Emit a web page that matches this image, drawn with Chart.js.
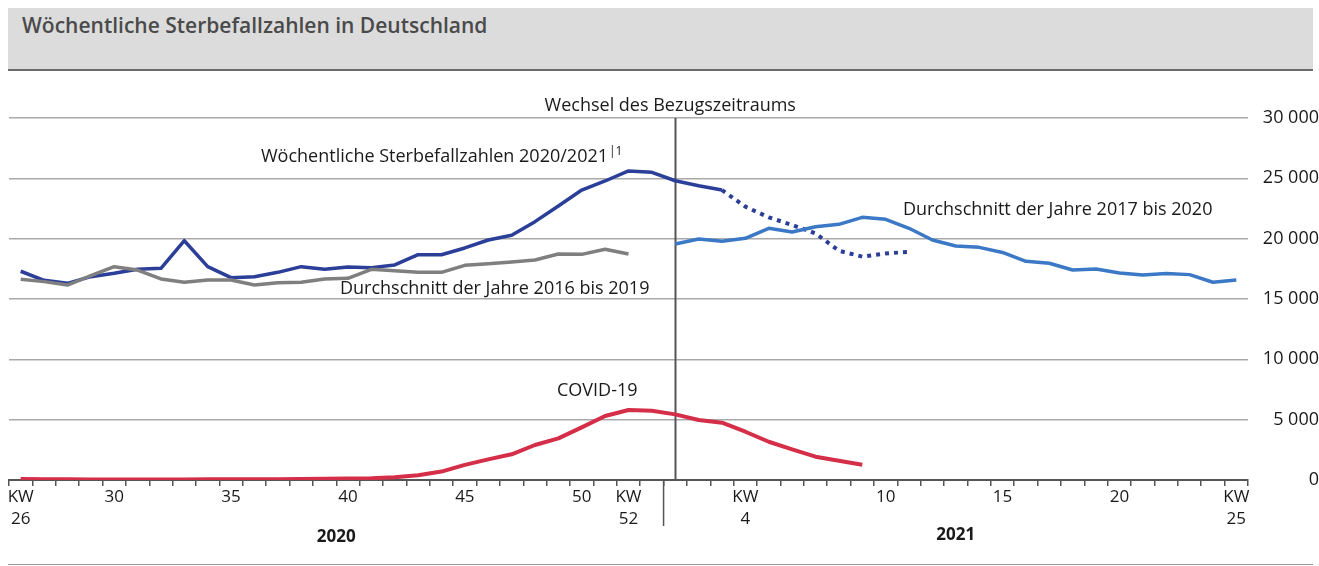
<!DOCTYPE html>
<html lang="de">
<head>
<meta charset="utf-8">
<title>Wöchentliche Sterbefallzahlen in Deutschland</title>
<script src="https://cdn.jsdelivr.net/npm/chart.js@4"></script>
<style>
  html, body { margin: 0; padding: 0; background: #fff; }
  body { width: 1319px; height: 566px; position: relative; overflow: hidden; font-family: "Open Sans", sans-serif; }
  .kopf { position: absolute; left: 8px; top: 8px; width: 1305px; height: 61px; background: #dcdcdc; border-bottom: 2px solid #6b6b6b; }
  .kopf h1 { margin: 0; position: absolute; left: 14px; top: 3px; font-size: 21px; font-weight: 600; color: #4a4a4a; }
  .fuss { position: absolute; left: 8px; top: 564px; width: 1305px; height: 1px; background: #999; }
  #chart { position: absolute; left: 0; top: 0; }
</style>
</head>
<body>
<div class="kopf"><h1>Wöchentliche Sterbefallzahlen in Deutschland</h1></div>
<canvas id="chart" width="1319" height="566"></canvas>
<div class="fuss"></div>

<script>
// Kalenderwochen: 2020 KW26 bis KW53, 2021 KW1 bis KW25
const wochen2020 = [26,27,28,29,30,31,32,33,34,35,36,37,38,39,40,41,42,43,44,45,46,47,48,49,50,51,52,53];
const wochen2021 = [1,2,3,4,5,6,7,8,9,10,11,12,13,14,15,16,17,18,19,20,21,22,23,24,25];
const kategorien = wochen2020.map(w => '2020-KW' + w).concat(wochen2021.map(w => '2021-KW' + w));

// Beschriftung der x-Achse ('|' = Zeilenumbruch)
const tickLabels = ['KW|26','','','','30','','','','','35','','','','','40','','','','','45','','','','','50','','KW|52','',
                    '','','','KW|4','','','','','','10','','','','','15','','','','','20','','','','','KW|25'];
const yTicks = [0, 5000, 10000, 15000, 20000, 25000, 30000];

// Wöchentliche Sterbefallzahlen 2020/2021 (durchgezogen bis KW3 2021)
const sterbefaelle = [17300,16550,16300,16850,17130,17460,17540,19830,17680,16770,16850,17210,17680,17460,
                      17650,17600,17820,18670,18670,19230,19890,20280,21410,22710,24030,24780,25610,25500,
                      24800,24390,24030];
// vorläufige Werte (gepunktet), ab KW3 2021
const sterbefaelleVorl = [null,null,null,null,null,null,null,null,null,null,null,null,null,null,
                          null,null,null,null,null,null,null,null,null,null,null,null,null,null,
                          null,null,24030,22650,21770,21130,20440,19000,18510,18780,18900];
// Durchschnitt der Jahre 2016 bis 2019
const schnitt2016 = [16630,16440,16160,16930,17680,17400,16660,16380,16570,16570,16160,16350,16380,16660,
                     16710,17460,17350,17210,17210,17790,17930,18070,18230,18730,18700,19120,18730];
// Durchschnitt der Jahre 2017 bis 2020 (ab KW1 2021)
const schnitt2017 = [null,null,null,null,null,null,null,null,null,null,null,null,null,null,
                     null,null,null,null,null,null,null,null,null,null,null,null,null,null,
                     19560,19970,19780,20030,20860,20550,20990,21190,21770,21600,20860,19890,19390,19280,
                     18860,18120,17960,17400,17490,17160,16990,17110,17020,16390,16570];
// COVID-19 Sterbefälle
const covid = [80,70,60,50,50,50,50,50,60,60,60,70,80,100,120,150,230,400,700,1250,1710,2130,2900,3450,
               4360,5300,5800,5740,5440,4970,4750,4000,3170,2540,1930,1600,1270];

const schrift = '"Open Sans", sans-serif';
const groesse = 18;

const beschriftung = {
    id: 'beschriftung',
    beforeDatasetsDraw(chart) {
        const ctx = chart.ctx;
        const x = chart.scales.x;
        const y = chart.scales.y;
        // Wechsel des Bezugszeitraums
        const xw = Math.round(x.getPixelForValue(28)) + 0.5;
        ctx.save();
        ctx.strokeStyle = '#555';
        ctx.lineWidth = 2;
        ctx.beginPath();
        ctx.moveTo(xw, y.getPixelForValue(30000));
        ctx.lineTo(xw, y.getPixelForValue(0));
        ctx.stroke();
        ctx.restore();
    },
    afterDraw(chart) {
        const ctx = chart.ctx;
        const x = chart.scales.x;
        const area = chart.chartArea;
        ctx.save();
        ctx.fillStyle = '#1a1a1a';
        ctx.textBaseline = 'middle';
        ctx.font = groesse + 'px ' + schrift;

        ctx.textAlign = 'center';
        ctx.fillText('Wechsel des Bezugszeitraums', x.getPixelForValue(28) - 5, 106);

        ctx.textAlign = 'left';
        ctx.fillText('Wöchentliche Sterbefallzahlen 2020/2021', 261, 157);
        const w = ctx.measureText('Wöchentliche Sterbefallzahlen 2020/2021').width;
        ctx.font = '12px ' + schrift;
        ctx.fillText('|1', 261 + w + 1, 152);
        ctx.font = groesse + 'px ' + schrift;
        ctx.fillText('Durchschnitt der Jahre 2016 bis 2019', 340, 289);
        ctx.fillText('Durchschnitt der Jahre 2017 bis 2020', 903, 210);
        ctx.fillText('COVID-19', 557, 391);

        // Jahrestrenner unter der Achse
        const grenze = (x.getPixelForValue(27) + x.getPixelForValue(28)) / 2;
        ctx.strokeStyle = '#555';
        ctx.lineWidth = 1.5;
        ctx.beginPath();
        ctx.moveTo(grenze, area.bottom);
        ctx.lineTo(grenze, area.bottom + 46);
        ctx.stroke();

        ctx.font = '700 17px ' + schrift;
        ctx.textAlign = 'center';
        ctx.fillText('2020', (x.getPixelForValue(0) + x.getPixelForValue(27)) / 2, 537);
        ctx.fillText('2021', (x.getPixelForValue(28) + x.getPixelForValue(52)) / 2, 535);
        ctx.restore();
    }
};

new Chart(document.getElementById('chart'), {
    type: 'line',
    data: {
        labels: kategorien,
        datasets: [
            {
                label: 'Durchschnitt der Jahre 2016 bis 2019',
                data: schnitt2016,
                borderColor: '#7f7f7f',
                borderWidth: 3.5
            },
            {
                label: 'Durchschnitt der Jahre 2017 bis 2020',
                data: schnitt2017,
                borderColor: '#3b78c5',
                borderWidth: 3.5
            },
            {
                label: 'Wöchentliche Sterbefallzahlen 2020/2021',
                data: sterbefaelle,
                borderColor: '#2b3e98',
                borderWidth: 3.5
            },
            {
                label: 'Wöchentliche Sterbefallzahlen 2020/2021 (vorläufig)',
                data: sterbefaelleVorl,
                borderColor: '#2b3e98',
                borderWidth: 4,
                borderDash: [4, 5],
                borderCapStyle: 'butt'
            },
            {
                label: 'COVID-19',
                data: covid,
                borderColor: '#d42e48',
                borderWidth: 4
            }
        ]
    },
    options: {
        responsive: false,
        animation: false,
        elements: {
            point: { radius: 0 },
            line: { tension: 0, borderJoinStyle: 'round' }
        },
        layout: {
            padding: { left: 9, right: 0, top: 118, bottom: 0 }
        },
        plugins: {
            legend: { display: false },
            tooltip: { enabled: false }
        },
        scales: {
            x: {
                offset: true,
                afterFit: s => { s.height = 86; },
                grid: {
                    offset: true,
                    drawOnChartArea: false,
                    drawTicks: true,
                    tickLength: 6,
                    color: '#555',
                    lineWidth: 1.5
                },
                border: { display: true, color: '#555', width: 2 },
                ticks: {
                    autoSkip: false,
                    maxRotation: 0,
                    padding: 0,
                    color: '#1a1a1a',
                    font: { family: schrift, size: 17, lineHeight: 1.3 },
                    callback: (v, i) => tickLabels[i] ? tickLabels[i].split('|') : ''
                }
            },
            y: {
                position: 'right',
                min: yTicks[0],
                max: yTicks[yTicks.length - 1],
                afterFit: s => { s.width = 71; },
                afterBuildTicks: s => { s.ticks = yTicks.map(v => ({ value: v })); },
                border: { display: false },
                grid: {
                    drawTicks: false,
                    lineWidth: 1.5,
                    color: c => c.tick && c.tick.value === 0 ? 'rgba(0,0,0,0)' : '#a9a9a9'
                },
                ticks: {
                    padding: 8,
                    crossAlign: 'far',
                    color: '#1a1a1a',
                    font: { family: schrift, size: groesse },
                    callback: v => v === 0 ? '0' : String(v).replace(/(\d+)(\d{3})$/, '$1 $2')
                }
            }
        }
    },
    plugins: [beschriftung]
});
</script>
</body>
</html>
